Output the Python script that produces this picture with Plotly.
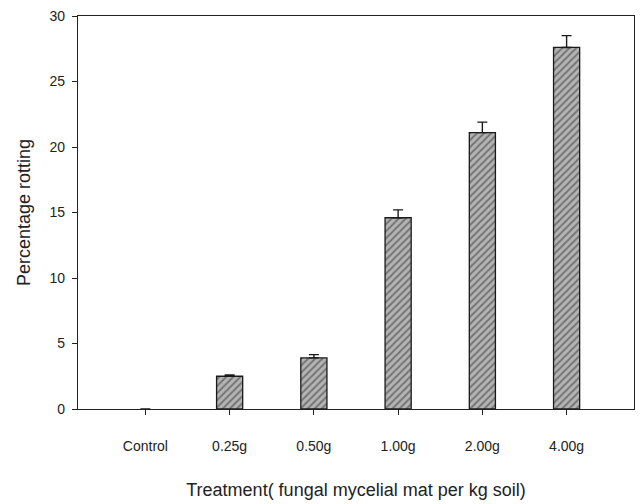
import plotly.graph_objects as go

treatments = ["Control", "0.25g", "0.50g", "1.00g", "2.00g", "4.00g"]
rotting_pct = [0.0, 2.5, 3.9, 14.6, 21.1, 27.6]
rotting_se = [0.0, 0.1, 0.25, 0.6, 0.8, 0.9]
y_ticks = [0, 5, 10, 15, 20, 25, 30]

font_family = "Liberation Sans, Arial, sans-serif"
xpos = list(range(len(treatments)))

# zero-height bars get no outline and no error bar
outline_w = [1.3 if v > 0 else 0 for v in rotting_pct]
err_up = [se if v > 0 else None for v, se in zip(rotting_pct, rotting_se)]

fig = go.Figure()
fig.add_trace(go.Bar(
    x=xpos,
    y=rotting_pct,
    width=0.31,
    marker=dict(
        color="#b4b4b4",
        line=dict(color="#1a1a1a", width=outline_w),
        pattern=dict(shape="/", fgcolor="#333333", bgcolor="#b4b4b4",
                     size=5, solidity=0.4),
    ),
    error_y=dict(type="data", symmetric=False, array=err_up,
                 arrayminus=[0] * len(rotting_se),
                 color="#1a1a1a", thickness=1.4, width=5),
    showlegend=False,
))

fig.update_layout(
    width=641, height=504,
    margin=dict(l=78, r=7, t=16, b=95),
    paper_bgcolor="white", plot_bgcolor="white",
    font=dict(family=font_family, color="#222222", size=14),
    xaxis=dict(
        range=[-0.8, 5.8],
        tickmode="array", tickvals=xpos, ticktext=treatments,
        ticks="outside", ticklen=5, tickwidth=1.3, tickcolor="#222222",
        showline=True, linecolor="#222222", linewidth=1.3, mirror=True,
        showgrid=False, zeroline=False,
        tickfont=dict(size=14),
        ticklabelstandoff=19,
        title=dict(text="Treatment( fungal mycelial mat per kg soil)",
                   font=dict(size=18), standoff=30),
    ),
    yaxis=dict(
        range=[0, 30],
        tickmode="array", tickvals=y_ticks,
        ticks="outside", ticklen=5, tickwidth=1.3, tickcolor="#222222",
        showline=True, linecolor="#222222", linewidth=1.3, mirror=True,
        showgrid=False, zeroline=False,
        tickfont=dict(size=14),
        ticklabelstandoff=4,
        title=dict(text="Percentage rotting", font=dict(size=18), standoff=14),
    ),
)

fig.write_html("out.html")
